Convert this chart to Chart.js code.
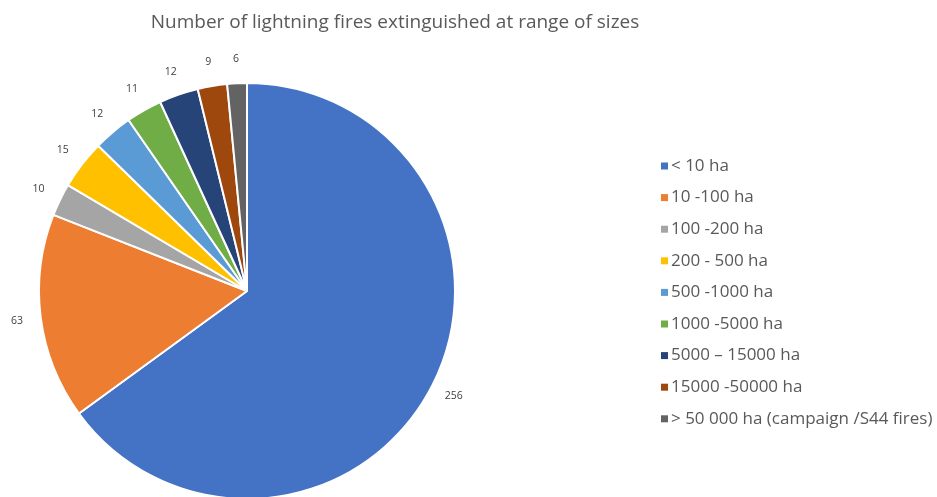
<!DOCTYPE html>
<html>
<head>
<meta charset="utf-8">
<script src="https://cdn.jsdelivr.net/npm/chart.js@4"></script>
<style>
  html, body { margin: 0; padding: 0; background: #fff; }
  #wrap { position: relative; width: 937px; height: 497px; }
</style>
</head>
<body>
<div id="wrap"><canvas id="pie"></canvas></div>
<script>
// chart data
const titleText = 'Number of lightning fires extinguished at range of sizes';
const sizeRanges = ['< 10 ha', '10 -100 ha', '100 -200 ha', '200 - 500 ha', '500 -1000 ha',
    '1000 -5000 ha', '5000 \u2013 15000 ha', '15000 -50000 ha', '> 50 000 ha (campaign /S44 fires)'];
const fireCounts = [256, 63, 10, 15, 12, 11, 12, 9, 6];
const sliceColors = ['#4472C4', '#ED7D31', '#A5A5A5', '#FFC000', '#5B9BD5',
    '#70AD47', '#264478', '#9E480E', '#636363'];

const FONT = '"Open Sans", Lato, sans-serif';

// value labels outside each slice
const outsideLabels = {
    id: 'outsideLabels',
    afterDatasetsDraw(chart) {
        const ctx = chart.ctx;
        const meta = chart.getDatasetMeta(0);
        ctx.save();
        ctx.font = '10.5px ' + FONT;
        ctx.fillStyle = '#404040';
        ctx.textAlign = 'center';
        ctx.textBaseline = 'middle';
        meta.data.forEach((arc, i) => {
            const mid = (arc.startAngle + arc.endAngle) / 2;
            const r = arc.outerRadius + 24;
            ctx.fillText(String(fireCounts[i]), arc.x + Math.cos(mid) * r, arc.y + Math.sin(mid) * r);
        });
        ctx.restore();
    }
};

// title and legend, placed like the original
const sideLegend = {
    id: 'sideLegend',
    afterDraw(chart) {
        const ctx = chart.ctx;
        ctx.save();
        ctx.fillStyle = '#595959';
        ctx.font = '19px ' + FONT;
        ctx.textAlign = 'center';
        ctx.textBaseline = 'middle';
        ctx.fillText(titleText, 395, 23);

        ctx.font = '17px ' + FONT;
        ctx.textAlign = 'left';
        sizeRanges.forEach((label, i) => {
            const y = 166 + i * 31.6;
            ctx.fillStyle = sliceColors[i];
            ctx.fillRect(661, y - 3.5, 7, 7);
            ctx.fillStyle = '#595959';
            ctx.fillText(label, 671, y);
        });
        ctx.restore();
    }
};

new Chart(document.getElementById('pie'), {
    type: 'pie',
    data: {
        labels: sizeRanges,
        datasets: [{
            data: fireCounts,
            backgroundColor: sliceColors,
            borderColor: '#ffffff',
            borderWidth: 2,
            hoverOffset: 0
        }]
    },
    options: {
        responsive: true,
        maintainAspectRatio: false,
        animation: false,
        events: [],
        radius: 208,
        layout: { padding: { left: 41, right: 484, top: 85, bottom: 0 } },
        plugins: {
            legend: { display: false },
            tooltip: { enabled: false },
            title: { display: false }
        }
    },
    plugins: [outsideLabels, sideLegend]
});
</script>
</body>
</html>
